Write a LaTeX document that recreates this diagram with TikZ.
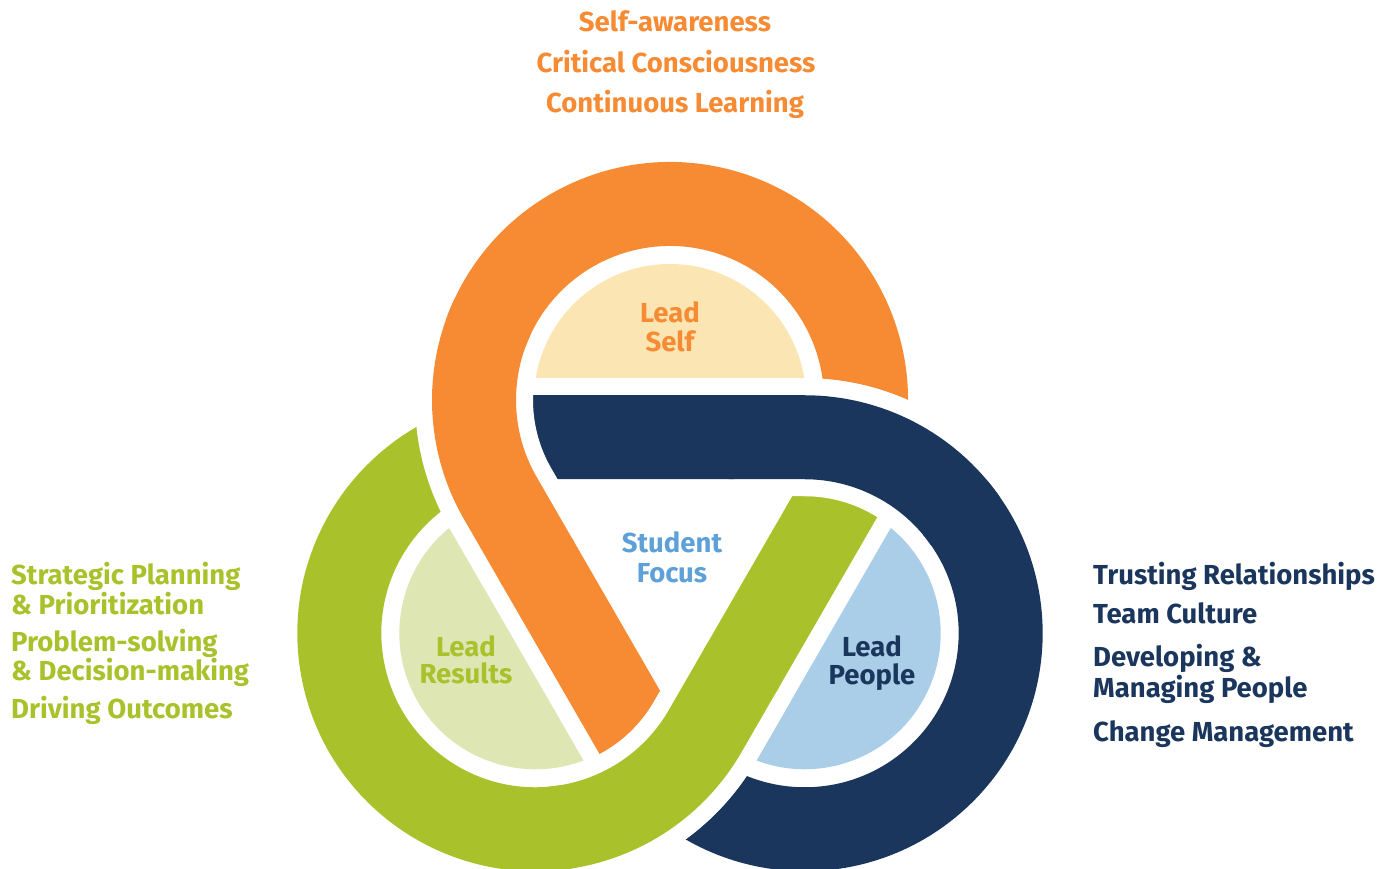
\documentclass[tikz,border=0pt]{standalone}
\usepackage{fontspec}
\setmainfont{Fira Sans}
\definecolor{bandorange}{RGB}{246,139,51}
\definecolor{bandnavy}{RGB}{26,54,93}
\definecolor{bandgreen}{RGB}{169,194,43}
\definecolor{paleorange}{RGB}{251,229,179}
\definecolor{palegreen}{RGB}{222,230,180}
\definecolor{paleblue}{RGB}{171,206,232}
\definecolor{focusblue}{RGB}{94,161,217}
\tikzset{
  casing/.style={draw=white, line width=118pt, line cap=butt},
  ribbon/.style={draw=#1, line width=84pt, line cap=butt},
  fullband/.style={insert path={(-20:196) arc[start angle=-20,end angle=210,radius=196] -- ++(-60:310)}},
  crossingwhite/.style={insert path={(160:196) arc[start angle=160,end angle=210,radius=196] -- ++(-60:70)}},
  crossingcolour/.style={insert path={(155:196) arc[start angle=155,end angle=210,radius=196] -- ++(-60:76)}},
  txt/.style={font=\bfseries\fontsize{27.5}{33}\selectfont, inner sep=0pt},
}
% one loop of the knot, in its own frame (origin = centre of its circle)
\newcommand{\loopdisc}[1]{%
  \begin{scope}
    \clip (-150,4.75) -- (150,4.75) -- (150,150) -- (-150,150) -- cycle;
    \fill[#1] (0,0) circle (136);
  \end{scope}}
\newcommand{\loopband}[1]{%
  \path[casing] [fullband];
  \path[ribbon=#1] [fullband];}
\newcommand{\loopcross}[1]{%
  \path[casing] [crossingwhite];
  \path[ribbon=#1] [crossingcolour];}
\begin{document}
\begin{tikzpicture}[x=1pt,y=1pt]
\useasboundingbox (0,0) rectangle (1390,868);
\tikzset{
  selfframe/.style={shift={(670,312.5)}, rotate=0, shift={(0,155.5)}},
  peopleframe/.style={shift={(670,312.5)}, rotate=-120, shift={(0,155.5)}},
  resultsframe/.style={shift={(670,312.5)}, rotate=120, shift={(0,155.5)}},
}
% inner discs
\begin{scope}[selfframe]\loopdisc{paleorange}\end{scope}
\begin{scope}[peopleframe]\loopdisc{paleblue}\end{scope}
\begin{scope}[resultsframe]\loopdisc{palegreen}\end{scope}
% the three ribbons
\begin{scope}[selfframe]\loopband{bandorange}\end{scope}
\begin{scope}[peopleframe]\loopband{bandnavy}\end{scope}
\begin{scope}[resultsframe]\loopband{bandgreen}\end{scope}
% over-crossings laid on top again
\begin{scope}[selfframe]\loopcross{bandorange}\end{scope}
\begin{scope}[peopleframe]\loopcross{bandnavy}\end{scope}
\begin{scope}[resultsframe]\loopcross{bandgreen}\end{scope}

% labels inside the knot
\node[txt, text=bandorange, anchor=base] (ls1) at (670,545) {Lead};
\node[txt, text=bandorange, anchor=base] (ls2) at (670,516) {Self};
\node[txt, text=focusblue, anchor=base] (sf1) at (672,315) {Student};
\node[txt, text=focusblue, anchor=base] (sf2) at (672,285) {Focus};
\node[txt, text=bandgreen, anchor=base] (lr1) at (466,211) {Lead};
\node[txt, text=bandgreen, anchor=base] (lr2) at (466,184) {Results};
\node[txt, text=bandnavy, anchor=base] (lp1) at (872,211) {Lead};
\node[txt, text=bandnavy, anchor=base] (lp2) at (872,183) {People};

% top list
\node[txt, text=bandorange, anchor=base] (aw1) at (675,836) {Self-awareness};
\node[txt, text=bandorange, anchor=base] (aw2) at (676,795) {Critical Consciousness};
\node[txt, text=bandorange, anchor=base] (aw3) at (675,755) {Continuous Learning};

% left list
\node[txt, text=bandgreen, anchor=base west] (rs1) at (11,283) {Strategic Planning};
\node[txt, text=bandgreen, anchor=base west] (rs2) at (11,253) {\& Prioritization};
\node[txt, text=bandgreen, anchor=base west] (rs3) at (11,216) {Problem-solving};
\node[txt, text=bandgreen, anchor=base west] (rs4) at (11,187) {\& Decision-making};
\node[txt, text=bandgreen, anchor=base west] (rs5) at (11,149) {Driving Outcomes};

% right list
\node[txt, text=bandnavy, anchor=base west] (pp1) at (1093,283) {Trusting Relationships};
\node[txt, text=bandnavy, anchor=base west] (pp2) at (1093,244) {Team Culture};
\node[txt, text=bandnavy, anchor=base west] (pp3) at (1093,201) {Developing \&};
\node[txt, text=bandnavy, anchor=base west] (pp4) at (1093,170) {Managing People};
\node[txt, text=bandnavy, anchor=base west] (pp5) at (1093,126) {Change Management};
\end{tikzpicture}
\end{document}
